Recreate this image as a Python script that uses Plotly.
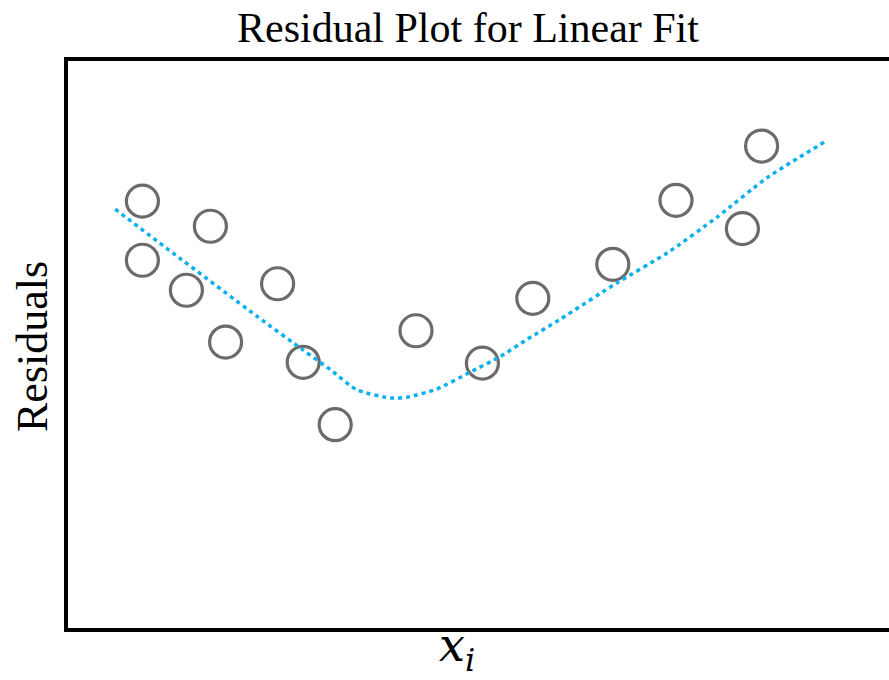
import plotly.graph_objects as go

# Residual observations
x_obs = [0.93, 0.93, 1.48, 1.78, 1.97, 2.62, 2.94, 3.34, 4.35, 5.18, 5.81, 6.81, 7.60, 8.43, 8.67]
y_obs = [1.77, 1.04, 0.67, 1.46, 0.03, 0.75, -0.22, -0.99, 0.17, -0.23, 0.57, 0.99, 1.78, 1.43, 2.45]

# Smoothed trend of residuals
x_fit = [0.59, 1.31, 2.36, 2.94, 3.28, 3.61, 4.03, 4.24, 4.61, 5.03, 5.40, 5.75, 6.15, 6.86, 7.49, 8.11, 8.74, 9.49]
y_fit = [1.67, 1.13, 0.35, -0.07, -0.31, -0.56, -0.66, -0.65, -0.55, -0.34, -0.15, 0.07, 0.31, 0.76, 1.13, 1.57, 2.06, 2.52]

W, H = 960, 680
L, R, T, B = 68, 40, 61, 52
pw = W - L - R
ph = H - T - B

fig = go.Figure()
fig.add_trace(go.Scatter(
    x=x_obs, y=y_obs, mode="markers",
    marker=dict(symbol="circle-open", size=32, color="#6e6a6a", line=dict(width=3.2, color="#6e6a6a")),
    showlegend=False, hoverinfo="skip"))
fig.add_trace(go.Scatter(
    x=x_fit, y=y_fit, mode="lines",
    line=dict(color="#0bb0ef", width=3.5, dash="4px,4px", shape="spline", smoothing=0.6),
    showlegend=False, hoverinfo="skip"))

serif = "Liberation Serif, Times New Roman, serif"
fig.update_layout(
    width=W, height=H,
    margin=dict(l=L, r=R, t=T, b=B),
    paper_bgcolor="white", plot_bgcolor="white",
    title=dict(text="Residual Plot for Linear Fit", font=dict(family=serif, size=42, color="black"),
               x=468 / W, xanchor="center", xref="container",
               y=1 - 27 / H, yanchor="middle", yref="container"),
    xaxis=dict(range=[0, pw / 80], showgrid=False, zeroline=False, showticklabels=False, ticks="",
               showline=True, mirror=True, linewidth=4, linecolor="black"),
    yaxis=dict(range=[-3.5, 3.5], showgrid=False, zeroline=False, showticklabels=False, ticks="",
               showline=True, mirror=True, linewidth=4, linecolor="black"),
    annotations=[
        dict(text="Residuals", textangle=-90, xref="paper", yref="paper",
             x=(32 - L) / pw, y=(H - B - 347) / ph, xanchor="center", yanchor="middle",
             showarrow=False, font=dict(family=serif, size=44, color="black")),
        dict(text="<i>x</i><sub><i>i</i></sub>", xref="paper", yref="paper",
             x=(457 - L) / pw, y=(H - B - 648) / ph, xanchor="center", yanchor="middle",
             showarrow=False, font=dict(family="DejaVu Serif", size=46, color="black")),
    ],
)

fig.write_html("out.html")
